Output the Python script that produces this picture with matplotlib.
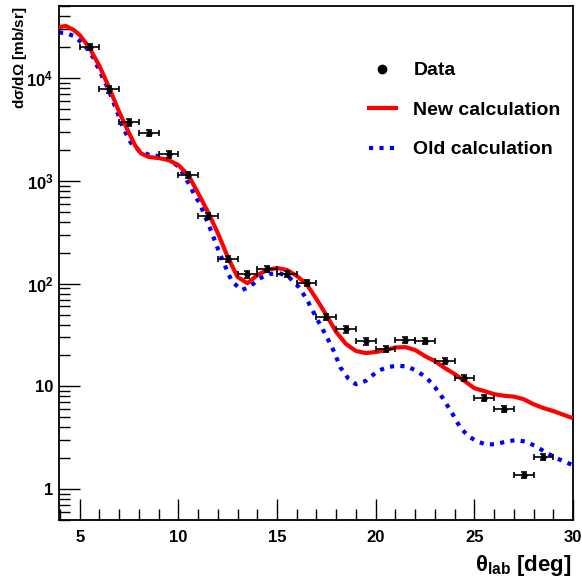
import numpy as np
import matplotlib
matplotlib.use("Agg")
import matplotlib.pyplot as plt
from matplotlib.ticker import FixedLocator, FuncFormatter, NullFormatter
from matplotlib.lines import Line2D

FAM = ['Liberation Sans', 'DejaVu Sans']
plt.rcParams['font.family'] = FAM
plt.rcParams['font.weight'] = 'bold'
plt.rcParams['mathtext.fontset'] = 'custom'
plt.rcParams['mathtext.rm'] = 'Liberation Sans'
plt.rcParams['mathtext.bf'] = 'Liberation Sans:bold'
plt.rcParams['mathtext.it'] = 'Liberation Sans:italic'

# ---- data ----
data_theta = [5.5, 6.5, 7.5, 8.5, 9.5, 10.5, 11.5, 12.5, 13.5, 14.5, 15.5, 16.5,
              17.5, 18.5, 19.5, 20.5, 21.5, 22.5, 23.5, 24.5, 25.5, 26.5, 27.5, 28.5]
data_xs = [20270, 7800, 3720, 2950, 1815, 1141, 458, 174, 123, 139, 124, 101,
           47.6, 35.9, 27.4, 23.1, 28.2, 27.6, 17.6, 12.1, 7.69, 6.01, 1.37, 2.05]
data_xerr = [0.5] * 24
data_yerr_frac = [0.07] * 24

new_theta = [3.95, 4.3, 4.7, 5.0, 5.5, 6.0, 6.5, 7.0, 7.5, 7.8, 8.1, 8.5, 9.0, 9.5, 10.0,
             10.5, 11.0, 11.5, 12.0, 12.5, 13.0, 13.5, 14.0, 14.5, 15.0, 15.5, 16.0,
             16.5, 17.0, 17.5, 18.0, 18.5, 19.0, 19.5, 20.0, 20.5, 21.0, 21.5, 22.0,
             22.5, 23.0, 23.5, 24.0, 24.5, 25.0, 25.5, 26.0, 26.5, 27.0, 27.5, 28.0,
             28.5, 29.0, 29.5, 30.0]
new_xs = [31520, 32240, 29470, 26340, 19690, 13150, 8028, 4689, 2927, 2230, 1860, 1709, 1671,
          1597, 1428, 1141, 762, 498, 311, 182, 116, 101, 121, 136, 142, 136, 119,
          99, 70.8, 49.5, 33.8, 25.8, 22.1, 21.1, 21.6, 22.6, 23.9, 24.1, 22.6,
          19.7, 17.6, 15.1, 13.2, 11.3, 9.6, 9.0, 8.4, 8.1, 7.95, 7.5, 6.7,
          6.15, 5.75, 5.3, 4.9]

old_theta = [3.95, 4.3, 4.7, 5.0, 5.35, 5.7, 6.0, 6.45, 6.8, 7.2, 7.6, 8.05, 8.55, 9.0,
             9.55, 10.0, 10.4, 10.85, 11.1, 11.6, 11.95, 12.3, 12.7, 13.2, 13.6, 14.1,
             14.6, 15.1, 15.6, 16.1, 16.5, 17.0, 17.5, 17.9, 18.2, 18.6, 19.0, 19.5,
             20.1, 20.6, 21.1, 21.6, 22.1, 22.6, 23.0, 23.4, 23.9, 24.3, 24.7, 25.1,
             25.6, 26.1, 26.6, 27.1, 27.6, 28.1, 28.6, 29.1, 29.5, 30.0]
old_xs = [27860, 27540, 25760, 23030, 19690, 15730, 11750, 7850, 5245, 3275, 2339, 1933,
          1788, 1748, 1597, 1381, 1043, 713, 596, 348, 232, 159, 106, 86.6, 92.7, 112,
          124, 127, 116, 92.7, 70.8, 46.2, 30.9, 21.6, 15.4, 12.0, 10.5, 11.3,
          14.1, 15.4, 15.9, 15.6, 14.1, 12.0, 9.84, 7.69, 5.37, 3.93, 3.28, 2.93,
          2.71, 2.74, 2.90, 3.00, 2.90, 2.62, 2.29, 2.03, 1.87, 1.71]

x_major = [5, 10, 15, 20, 25, 30]
y_major = [1, 10, 100, 1000, 10000]
y_labels = ['1', '10', r'$\mathbf{10^{2}}$', r'$\mathbf{10^{3}}$', r'$\mathbf{10^{4}}$']

# ---- figure ----
fig = plt.figure(figsize=(5.82, 5.81), dpi=100)
ax = fig.add_axes([59/582, 1-520/581, (573-59)/582, (520-6)/581])

ax.plot(new_theta, new_xs, color='#ff0000', lw=3.0, solid_capstyle='butt',
        solid_joinstyle='round', zorder=3)
ax.plot(old_theta, old_xs, color='#0000ff', lw=3.0, linestyle=(0, (1, 1.5)),
        dash_capstyle='butt', zorder=2)
yerr = [v * f for v, f in zip(data_xs, data_yerr_frac)]
ax.errorbar(data_theta, data_xs, xerr=data_xerr, yerr=yerr, fmt='o', color='black',
            ms=3.5, elinewidth=1.2, capsize=2.5, capthick=1.2, zorder=4)

ax.set_yscale('log')
ax.set_xlim(3.95, 30)
ax.set_ylim(0.5, 5.05e4)

ax.xaxis.set_major_locator(FixedLocator(x_major))
ax.xaxis.set_minor_locator(FixedLocator(list(range(4, 31))))
ax.yaxis.set_major_locator(FixedLocator(y_major))
ax.yaxis.set_minor_locator(FixedLocator([m * 10.0**e for e in range(-1, 5) for m in range(2, 10)]))
ax.yaxis.set_major_formatter(FuncFormatter(lambda v, p: dict(zip(y_major, y_labels)).get(v, '')))
ax.yaxis.set_minor_formatter(NullFormatter())
ax.xaxis.set_major_formatter(FuncFormatter(lambda v, p: '%d' % v))

ax.tick_params(which='both', direction='in', top=False, right=False, width=1.0, colors='black')
ax.tick_params(which='major', length=15, labelsize=12)
ax.tick_params(which='minor', length=8)
ax.tick_params(axis='x', which='major', pad=7)
ax.tick_params(axis='y', which='major', pad=4)
for lab in ax.get_xticklabels() + ax.get_yticklabels():
    lab.set_fontweight('bold')
for s in ax.spines.values():
    s.set_linewidth(1.3)

# legend
handles = [
    Line2D([], [], color='black', marker='o', ms=6, linestyle='none'),
    Line2D([], [], color='#ff0000', lw=3.0),
    Line2D([], [], color='#0000ff', lw=3.0, linestyle=(0, (1, 1.5))),
]
ax.legend(handles, ['Data', 'New calculation', 'Old calculation'], loc='upper left',
          bbox_to_anchor=((359-59)/514, 1-(52-6)/514), frameon=False,
          prop={'family': FAM, 'weight': 'bold', 'size': 14},
          handlelength=1.4, handletextpad=0.9, labelspacing=1.13, borderpad=0)

fig.text(20/582, 1-6/581, r'd$\mathbf{\sigma}$/d$\mathbf{\Omega}$ [mb/sr]', rotation=90,
         ha='center', va='top', fontsize=11, fontweight='bold')
fig.text(572/582, 1-578/581, r'$\mathrm{\theta}_{\mathbf{lab}}$ [deg]', ha='right', va='bottom',
         fontsize=16, fontweight='bold')

fig.savefig('out.png', dpi=100)
